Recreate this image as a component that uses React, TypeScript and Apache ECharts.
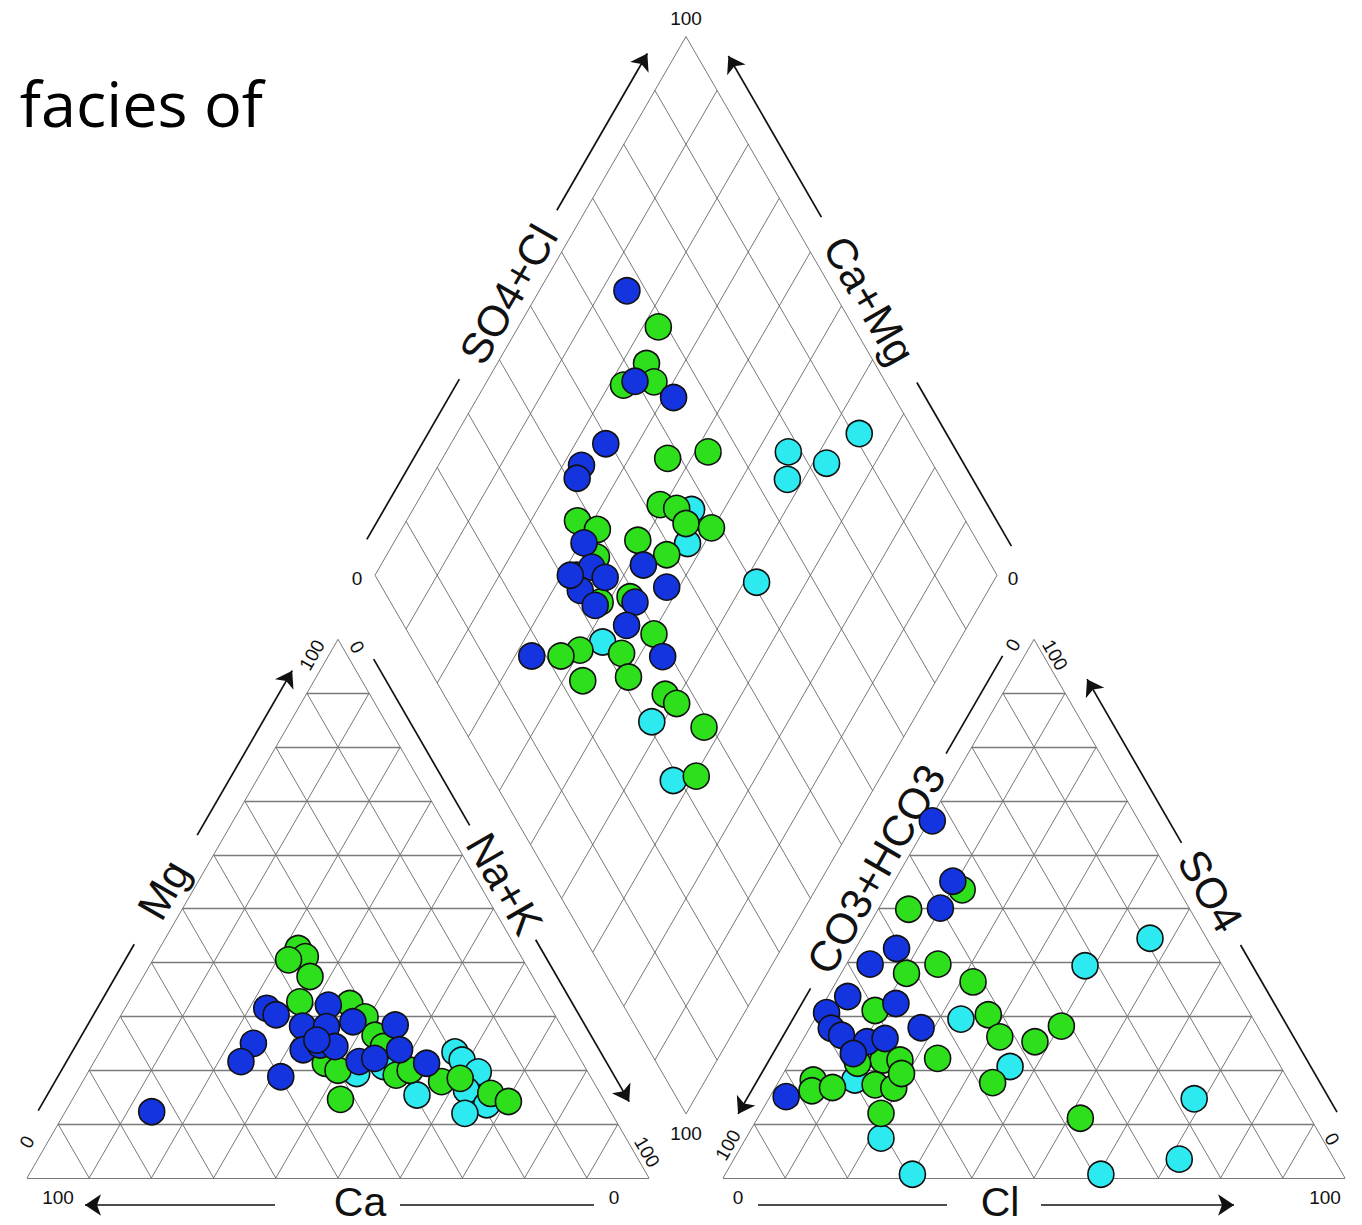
import React, { useEffect, useRef } from "react";
import * as echarts from "echarts";

// ---- Data (percent values) ----
// Cation triangle: [Mg %, Na+K %]
const CATION_BLUE: [number, number][] = [
  [31.5, 22.8], [30.3, 24.9], [32.1, 32.4], [28.2, 30.2], [28.1, 34.1], [29.0, 37.9],
  [28.4, 45.0], [23.8, 48.0], [23.8, 32.5], [24.7, 34.8], [24.4, 37.3], [25.0, 23.9],
  [21.6, 23.6], [18.8, 31.4], [21.6, 42.6], [22.2, 44.8], [21.3, 53.6], [12.3, 13.9],
  [25.6, 33.8],
];
const CATION_GREEN: [number, number][] = [
  [42.6, 22.3], [41.1, 24.2], [40.5, 21.8], [37.4, 26.8], [32.7, 27.5], [32.4, 35.7],
  [29.9, 39.4], [26.5, 42.7], [24.4, 45.1], [21.3, 37.3], [20.0, 40.0], [19.1, 49.8],
  [20.0, 51.6], [14.6, 43.1], [17.9, 57.7], [18.5, 60.4], [15.7, 66.7], [14.2, 70.3],
];
const CATION_CYAN: [number, number][] = [
  [19.4, 43.3], [20.7, 47.0], [15.4, 55.0], [23.4, 57.1], [21.9, 59.0], [19.7, 62.7],
  [16.3, 62.5], [13.6, 67.1], [12.0, 64.4],
];
// Anion triangle: [SO4 %, Cl %]
const ANION_BLUE: [number, number][] = [
  [66.3, 0.5], [55.1, 9.4], [50.1, 9.9], [42.6, 6.6], [39.7, 3.8], [33.7, 3.2],
  [30.7, 1.3], [27.8, 3.5], [26.5, 5.8], [25.3, 10.5], [25.9, 13.1], [32.4, 11.6],
  [23.1, 9.4], [27.9, 17.9], [15.1, 2.6],
];
const ANION_GREEN: [number, number][] = [
  [53.5, 11.7], [49.9, 4.9], [38.0, 10.5], [39.7, 14.7], [36.4, 22.0], [31.1, 8.9],
  [30.3, 27.5], [26.2, 31.4], [25.3, 37.5], [28.2, 40.3], [21.9, 14.8], [21.9, 17.5],
  [22.2, 23.4], [17.7, 34.5], [21.3, 11.0], [18.2, 5.4], [16.2, 6.2], [16.8, 9.2],
  [17.3, 15.8], [16.7, 19.1], [19.4, 19.0], [12.0, 19.4], [11.1, 51.9],
];
const ANION_CYAN: [number, number][] = [
  [39.4, 38.5], [44.5, 46.4], [29.5, 23.5], [20.7, 35.8], [18.2, 12.1], [7.4, 21.7],
  [0.7, 30.1], [14.7, 68.4], [3.5, 71.6], [0.7, 60.4],
];
// Diamond: [Na+K %, SO4+Cl %]
const DIAMOND_BLUE: [number, number][] = [
  [14.1, 66.9], [23.8, 59.8], [31.5, 64.5], [24.9, 49.3], [23.0, 43.4], [23.5, 41.5],
  [30.6, 36.6], [42.2, 44.1], [48.0, 45.8], [32.4, 32.4], [34.1, 35.6], [37.2, 36.8],
  [34.4, 31.6], [38.2, 32.6], [31.4, 31.4], [44.3, 39.3], [45.1, 35.8], [53.8, 38.7],
  [32.7, 17.7],
];
const DIAMOND_GREEN: [number, number][] = [
  [22.5, 68.6], [24.0, 63.3], [22.3, 57.6], [26.9, 62.8], [36.2, 57.9], [42.1, 65.0],
  [39.3, 52.4], [42.3, 54.7], [45.2, 54.8], [49.7, 58.5], [27.5, 37.6], [31.5, 40.0],
  [39.0, 45.5], [45.0, 48.8], [38.7, 33.7], [33.9, 37.3], [43.0, 39.0], [50.3, 39.4],
  [39.9, 26.0], [37.4, 22.4], [46.9, 32.4], [50.2, 31.3], [43.2, 23.6], [57.7, 35.6],
  [60.4, 36.6], [67.0, 38.8], [70.3, 33.0],
];
const DIAMOND_CYAN: [number, number][] = [
  [55.0, 77.9], [57.4, 75.2], [62.2, 83.0], [64.7, 91.0], [44.8, 57.0], [47.3, 53.2],
  [62.0, 60.7], [42.8, 30.4], [58.1, 30.9], [67.0, 28.9],
];

const GRID_STEPS = [10, 20, 30, 40, 50, 60, 70, 80, 90];

type TickLabel = { text: string; x: number; y: number; rot: number };
const TICK_LABELS: TickLabel[] = [
  { text: "100", x: 58, y: 1197, rot: 0 },
  { text: "0", x: 614, y: 1197, rot: 0 },
  { text: "0", x: 27, y: 1142, rot: 60 },
  { text: "100", x: 312, y: 655, rot: 60 },
  { text: "0", x: 357, y: 647, rot: -60 },
  { text: "100", x: 647, y: 1152, rot: -60 },
  { text: "100", x: 686, y: 18, rot: 0 },
  { text: "0", x: 357, y: 578, rot: 0 },
  { text: "0", x: 1013, y: 578, rot: 0 },
  { text: "100", x: 686, y: 1133, rot: 0 },
  { text: "0", x: 1013, y: 645, rot: 60 },
  { text: "100", x: 1055, y: 655, rot: -60 },
  { text: "100", x: 728, y: 1145, rot: 60 },
  { text: "0", x: 1332, y: 1139, rot: -60 },
  { text: "0", x: 738, y: 1197, rot: 0 },
  { text: "100", x: 1325, y: 1197, rot: 0 },
];

// ---- Geometry ----
const W = 1362;
const HT = 1225;
const U = 6.22; // px per percent unit
const OX = 27;
const OY = 1178;
const GAP = 11.9;
const K = Math.sqrt(3) / 2;
const RX = 100 + GAP;
const DLX = 50 + GAP / 2;
const DLY = GAP * K + 100 * K;

type P = [number, number];
const tri = (ox: number, a: number, b: number): P => [ox + b + a / 2, a * K];
const dia = (n: number, a: number): P => [DLX + (n + a) / 2, DLY + (a - n) * K];
const toPx = (p: P): P => [OX + p[0] * U, OY - p[1] * U];

const LT0: P = [0, 0], LT1: P = [100, 0], LT2: P = [50, 100 * K];
const RT0: P = [RX, 0], RT1: P = [RX + 100, 0], RT2: P = [RX + 50, 100 * K];
const DL = dia(0, 0), DB = dia(100, 0), DR = dia(100, 100), DT = dia(0, 100);

const NB: P = [0, -1];
const NL: P = [-K, 0.5];
const NR: P = [K, 0.5];

const at = (A: P, B: P, n: P, tPx: number, dPx: number): P => {
  const f = tPx / (100 * U);
  return [A[0] + (B[0] - A[0]) * f + (n[0] * dPx) / U, A[1] + (B[1] - A[1]) * f + (n[1] * dPx) / U];
};

type AxisDef = {
  name: string; A: P; B: P; n: P; d: number; segs: [number, number][];
  arrow: "start" | "end"; t: number; td: number; rot: number; fs: number;
};
const AXES: AxisDef[] = [
  { name: "Ca", A: LT0, B: LT1, n: NB, d: 27, segs: [[58, 248], [373, 567]], arrow: "start", t: 333, td: 24, rot: 0, fs: 41 },
  { name: "Mg", A: LT0, B: LT2, n: NL, d: 24, segs: [[64, 256], [382, 572]], arrow: "end", t: 318, td: 26, rot: 60, fs: 43 },
  { name: "Na+K", A: LT1, B: LT2, n: NR, d: 21, segs: [[76, 263], [395, 587]], arrow: "start", t: 327, td: 22, rot: -60, fs: 43 },
  { name: "SO4+Cl", A: DL, B: DT, n: NL, d: 25, segs: [[27, 212], [407, 588]], arrow: "end", t: 310, td: 25, rot: 60, fs: 43 },
  { name: "Ca+Mg", A: DR, B: DT, n: NR, d: 27, segs: [[18, 207], [398, 584]], arrow: "end", t: 302, td: 27, rot: -60, fs: 43 },
  { name: "CO3+HCO3", A: RT0, B: RT2, n: NL, d: 19, segs: [[63, 208], [479, 592]], arrow: "start", t: 344, td: 22, rot: 60, fs: 43 },
  { name: "SO4", A: RT1, B: RT2, n: NR, d: 26, segs: [[61, 254], [372, 561]], arrow: "end", t: 316, td: 27, rot: -60, fs: 43 },
  { name: "Cl", A: RT0, B: RT1, n: NB, d: 27, segs: [[35, 224], [318, 511]], arrow: "end", t: 277, td: 24, rot: 0, fs: 41 },
];

function buildGrid() {
  const diag: { coords: P[] }[] = [];
  const horiz: { coords: P[] }[] = [];
  for (const ox of [0, RX]) {
    for (const k of GRID_STEPS) {
      horiz.push({ coords: [tri(ox, k, 0), tri(ox, k, 100 - k)] });
      diag.push({ coords: [tri(ox, 0, k), tri(ox, 100 - k, k)] });
      diag.push({ coords: [tri(ox, 0, 100 - k), tri(ox, 100 - k, 0)] });
    }
    diag.push({ coords: [tri(ox, 0, 0), tri(ox, 0, 100)] });
    diag.push({ coords: [tri(ox, 0, 100), tri(ox, 100, 0)] });
    diag.push({ coords: [tri(ox, 100, 0), tri(ox, 0, 0)] });
  }
  for (const k of GRID_STEPS) {
    diag.push({ coords: [dia(k, 0), dia(k, 100)] });
    diag.push({ coords: [dia(0, k), dia(100, k)] });
  }
  diag.push({ coords: [DL, DB] }, { coords: [DB, DR] }, { coords: [DR, DT] }, { coords: [DT, DL] });
  return { diag, horiz };
}

function buildAxisLines() {
  const plain: { coords: P[] }[] = [];
  const arrows: { coords: P[] }[] = [];
  for (const ax of AXES) {
    const p = (t: number) => at(ax.A, ax.B, ax.n, t, ax.d);
    const [s0, s1] = ax.segs;
    if (ax.arrow === "start") {
      arrows.push({ coords: [p(s0[1]), p(s0[0])] });
      plain.push({ coords: [p(s1[0]), p(s1[1])] });
    } else {
      plain.push({ coords: [p(s0[0]), p(s0[1])] });
      arrows.push({ coords: [p(s1[0]), p(s1[1])] });
    }
  }
  return { plain, arrows };
}

const COLORS = { blue: "#1434e0", green: "#2ee01c", cyan: "#2de9f0" };

export default function App() {
  const ref = useRef<HTMLDivElement>(null);
  useEffect(() => {
    document.body.style.margin = "0";
    if (!ref.current) return;
    const chart = echarts.init(ref.current, undefined, { renderer: "svg" });
    const { diag, horiz } = buildGrid();
    const { plain, arrows } = buildAxisLines();

    const pts = (cat: [number, number][], an: [number, number][], di: [number, number][]) => [
      ...cat.map(([mg, na]) => tri(0, mg, na)),
      ...an.map(([so4, cl]) => tri(RX, so4, cl)),
      ...di.map(([n, a]) => dia(n, a)),
    ];

    const scatter = (name: string, color: string, data: P[]) => ({
      name,
      type: "scatter",
      data,
      symbol: "circle",
      symbolSize: 26,
      z: 5,
      silent: true,
      itemStyle: { color, borderColor: "#111", borderWidth: 1.6, opacity: 1 },
    });

    const textEls: any[] = [];
    textEls.push({
      type: "text",
      x: 263,
      y: 102,
      silent: true,
      style: {
        text: "facies of",
        fontSize: 63,
        fontFamily: "'Open Sans', 'Noto Sans', sans-serif",
        fill: "#000",
        textAlign: "right",
        textVerticalAlign: "middle",
      },
    });
    for (const ax of AXES) {
      const [x, y] = toPx(at(ax.A, ax.B, ax.n, ax.t, ax.td));
      textEls.push({
        type: "text",
        x,
        y,
        rotation: (ax.rot * Math.PI) / 180,
        silent: true,
        style: {
          text: ax.name,
          fontSize: ax.fs,
          fontFamily: "'Liberation Sans', Arial, sans-serif",
          fill: "#111",
          textAlign: "center",
          textVerticalAlign: "middle",
        },
      });
    }
    for (const tl of TICK_LABELS) {
      textEls.push({
        type: "text",
        x: tl.x,
        y: tl.y,
        rotation: (tl.rot * Math.PI) / 180,
        silent: true,
        style: {
          text: tl.text,
          fontSize: 19,
          fontFamily: "'Liberation Sans', Arial, sans-serif",
          fill: "#111",
          textAlign: "center",
          textVerticalAlign: "middle",
        },
      });
    }

    chart.setOption({
      animation: false,
      backgroundColor: "#ffffff",
      grid: { left: 0, right: 0, top: 0, bottom: 0 },
      xAxis: { type: "value", min: -OX / U, max: (W - OX) / U, show: false },
      yAxis: { type: "value", min: -(HT - OY) / U, max: OY / U, show: false },
      series: [
        {
          type: "lines", coordinateSystem: "cartesian2d", silent: true, z: 1,
          data: diag, lineStyle: { color: "#555", width: 0.8, opacity: 1, curveness: 0 },
        },
        {
          type: "lines", coordinateSystem: "cartesian2d", silent: true, z: 1,
          data: horiz, lineStyle: { color: "#7a7a7a", width: 1.4, opacity: 1, curveness: 0 },
        },
        {
          type: "lines", coordinateSystem: "cartesian2d", silent: true, z: 2,
          data: plain, lineStyle: { color: "#111", width: 1.7, opacity: 1, curveness: 0 },
        },
        {
          type: "lines", coordinateSystem: "cartesian2d", silent: true, z: 2,
          symbol: ["none", "arrow"], symbolSize: 16,
          data: arrows, lineStyle: { color: "#111", width: 1.7, opacity: 1, curveness: 0 },
        },
        scatter("cyan", COLORS.cyan, pts(CATION_CYAN, ANION_CYAN, DIAMOND_CYAN)),
        scatter("green", COLORS.green, pts(CATION_GREEN, ANION_GREEN, DIAMOND_GREEN)),
        scatter("blue", COLORS.blue, pts(CATION_BLUE, ANION_BLUE, DIAMOND_BLUE)),
      ],
      graphic: { elements: textEls },
    });
    return () => chart.dispose();
  }, []);
  return <div ref={ref} style={{ width: W, height: HT }} />;
}
